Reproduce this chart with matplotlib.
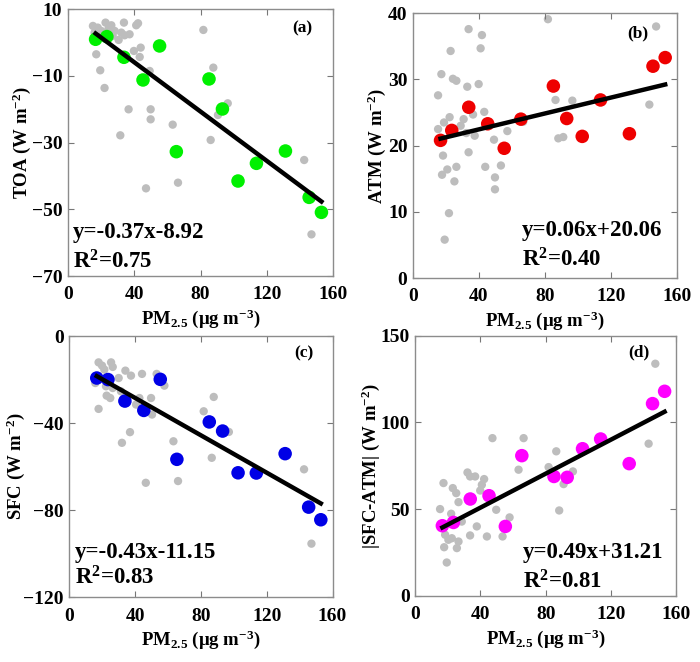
import matplotlib
matplotlib.use('Agg')
import matplotlib.pyplot as plt

plt.rcParams['font.family'] = ['Liberation Serif', 'DejaVu Serif']
plt.rcParams['font.weight'] = 'bold'
plt.rcParams['mathtext.fontset'] = 'custom'
plt.rcParams['mathtext.rm'] = 'Liberation Serif:bold'
plt.rcParams['mathtext.it'] = 'Liberation Serif:bold'
plt.rcParams['mathtext.bf'] = 'Liberation Serif:bold'

# PM2.5 of the highlighted points (same in every panel)
pm_sel = [16.7, 23.5, 33.8, 45.3, 55.3, 65.4, 85.1, 93.2, 102.6, 113.7, 131.2, 145.5, 152.9]
toa_sel = [1.0, 1.8, -4.4, -11.2, -1.0, -32.7, -10.9, -19.9, -41.5, -36.2, -32.5, -46.4, -50.9]
atm_sel = [20.8, 22.3, 25.8, 23.3, 19.6, 24.0, 29.0, 24.1, 21.4, 26.9, 21.8, 32.0, 33.3]
sfc_sel = [-19.2, -19.9, -29.8, -34.1, -19.8, -56.6, -39.4, -43.6, -62.8, -62.9, -54.0, -78.6, -84.4]
dif_sel = [40.4, 42.3, 55.8, 57.7, 40.0, 80.8, 68.8, 68.3, 84.8, 90.4, 76.2, 110.8, 117.9]

# grey background points, read per panel
toa_gx = [15.1, 22.7, 26.2, 33.8, 41.2, 42.3, 16.1, 20.1, 28.2, 32.2, 37.2, 30.6, 34.2, 43.9,
          39.8, 43.3, 17.1, 19.5, 22.1, 49.3, 36.6, 49.9, 49.9, 63.2, 31.6, 66.4, 47.1, 81.7,
          87.7, 96.4, 90.5, 86.1, 142.5, 146.9, 18.0, 24.5, 27.0]
toa_gy = [5.0, 6.0, 5.2, 6.0, 5.2, 5.8, 3.0, 3.5, 3.5, 3.0, 2.5, 0.8, 2.2, -1.5,
          -2.5, -4.3, -3.5, -8.3, -13.6, -8.5, -20.0, -20.0, -23.0, -24.6, -27.8, -42.0, -43.7, 3.8,
          -7.5, -18.2, -21.7, -29.2, -35.2, -57.5, 4.5, 4.2, 2.0]

atm_gx = [33.7, 41.8, 41.0, 22.8, 17.2, 24.2, 26.3, 32.9, 39.8, 15.2, 22.2, 18.8, 15.2, 30.7,
          28.9, 36.4, 43.2, 37.4, 32.3, 49.1, 57.2, 18.2, 33.7, 20.8, 26.3, 17.6, 25.1, 43.8,
          53.3, 49.7, 49.7, 21.8, 19.2, 81.8, 147.4, 86.4, 96.6, 88.1, 91.1, 143.3, 66.8]
atm_gy = [37.6, 36.7, 34.7, 34.3, 30.8, 30.1, 29.8, 28.9, 29.3, 27.6, 24.3, 23.5, 22.5, 24.0,
          23.0, 24.7, 25.1, 21.5, 21.9, 20.9, 22.2, 18.5, 19.0, 16.4, 16.8, 15.6, 14.6, 16.8,
          17.0, 15.2, 13.4, 9.8, 5.8, 39.1, 38.0, 26.9, 26.8, 21.1, 21.3, 26.2, 23.6]

sfc_gx = [17.8, 19.9, 25.4, 26.4, 21.3, 34.1, 37.5, 44.2, 53.1, 57.8, 15.8, 22.3, 26.4, 30.0,
          22.7, 24.9, 31.4, 42.6, 49.7, 40.6, 50.3, 17.8, 36.9, 32.0, 63.3, 81.7, 87.8, 86.6,
          66.1, 46.5, 97.0, 142.7, 147.2]
sfc_gy = [-12.0, -13.5, -12.0, -14.1, -15.3, -15.8, -18.1, -17.3, -17.3, -22.7, -21.5, -23.0, -23.8, -19.2,
          -27.3, -28.4, -25.3, -28.4, -28.4, -31.4, -36.0, -33.4, -44.1, -49.0, -48.3, -34.5, -27.9, -55.9,
          -66.6, -67.4, -44.0, -61.2, -95.4]

dif_gx = [47.4, 66.5, 63.4, 32.1, 33.7, 36.8, 42.3, 40.9, 39.9, 17.4, 23.1, 25.2, 26.6, 15.3,
          49.7, 57.9, 22.1, 28.6, 37.8, 44.0, 53.6, 33.7, 18.4, 20.4, 22.5, 26.6, 17.8, 25.6,
          19.4, 81.8, 86.5, 96.7, 91.0, 88.3, 143.1, 147.2]
dif_gy = [90.9, 90.9, 72.7, 71.1, 68.8, 68.8, 67.3, 64.0, 60.7, 65.0, 62.1, 59.2, 54.0, 50.0,
          49.6, 45.2, 47.3, 42.8, 40.0, 34.2, 34.2, 34.8, 35.2, 32.3, 33.2, 31.3, 28.0, 27.5,
          19.2, 74.2, 83.3, 71.7, 64.4, 49.2, 87.7, 133.8]

slopes = [-0.37, 0.06, -0.43, 0.49]
intercepts = [8.92, 20.06, -11.15, 31.21]
eq_texts = ['y=-0.37x-8.92', 'y=0.06x+20.06', 'y=-0.43x-11.15', 'y=0.49x+31.21']
r2_texts = ['R$^2$=0.75', 'R$^2$=0.40', 'R$^2$=0.83', 'R$^2$=0.81']
tags = ['(a)', '(b)', '(c)', '(d)']
ylabels = ['TOA (W m$^{-2}$)', 'ATM (W m$^{-2}$)', 'SFC (W m$^{-2}$)', '|SFC-ATM| (W m$^{-2}$)']
yranges = [(-70, 10), (0, 40), (-120, 0), (0, 150)]
yticks = [[-70, -50, -30, -10, 10], [0, 10, 20, 30, 40], [-120, -80, -40, 0], [0, 50, 100, 150]]
colors = ['#00f000', '#ee0000', '#0000e6', '#ff00ff']

sel_y = [toa_sel, atm_sel, sfc_sel, dif_sel]
grey_x = [toa_gx, atm_gx, sfc_gx, dif_gx]
grey_y = [toa_gy, atm_gy, sfc_gy, dif_gy]

# [left, bottom, width, height] and text spots per panel
boxes = [[0.097, 0.583, 0.379, 0.403], [0.590, 0.580, 0.377, 0.400],
         [0.099, 0.098, 0.376, 0.394], [0.593, 0.100, 0.373, 0.393]]
eq_pos = [(0.02, 0.165, 0.052), (0.413, 0.181, 0.068), (0.02, 0.17, 0.073), (0.414, 0.167, 0.055)]
tag_pos = [(0.883, 0.929), (0.852, 0.925), (0.89, 0.935), (0.858, 0.935)]
ylab_pad = [-1, 0, -2.5, -1]

fig = plt.figure(figsize=(7, 6.62), dpi=100)
for i in range(4):
    ax = fig.add_axes(boxes[i])
    ax.scatter(grey_x[i], grey_y[i], s=36, c='#bdbdbd', edgecolors='none', zorder=1)
    ax.scatter(pm_sel, sel_y[i], s=95, c=colors[i], edgecolors='none', zorder=2)
    lx = [min(pm_sel), max(pm_sel)]
    ly = [slopes[i] * v + intercepts[i] for v in lx]
    ax.plot(lx, ly, color='black', lw=3.2, zorder=3)

    ax.set_xlim(0, 160)
    ax.set_ylim(yranges[i])
    ax.set_xticks([0, 40, 80, 120, 160])
    ax.set_yticks(yticks[i])
    ax.tick_params(direction='in', top=True, right=True, labelsize=14,
                   color='#777777', length=4)
    ax.tick_params(axis='x', pad=7.5)
    ax.tick_params(axis='y', pad=4)
    for sp in ax.spines.values():
        sp.set_color('#8c8c8c')
        sp.set_linewidth(1.0)
    ax.set_xlabel('PM$_{2.5}$ (\u03bcg m$^{-3}$)', fontsize=13.5, fontweight='bold', labelpad=3)
    ax.set_ylabel(ylabels[i], fontsize=13.5, fontweight='bold', labelpad=ylab_pad[i])

    ex, ey, ry = eq_pos[i]
    ax.text(ex, ey, eq_texts[i], transform=ax.transAxes, fontsize=16.5,
            fontweight='bold', va='center', ha='left')
    ax.text(ex, ry, r2_texts[i], transform=ax.transAxes, fontsize=16.5,
            fontweight='bold', va='center', ha='left')
    ax.text(tag_pos[i][0], tag_pos[i][1], tags[i], transform=ax.transAxes,
            fontsize=12.5, fontweight='bold', va='center', ha='center')

plt.savefig('out.png', dpi=100)
